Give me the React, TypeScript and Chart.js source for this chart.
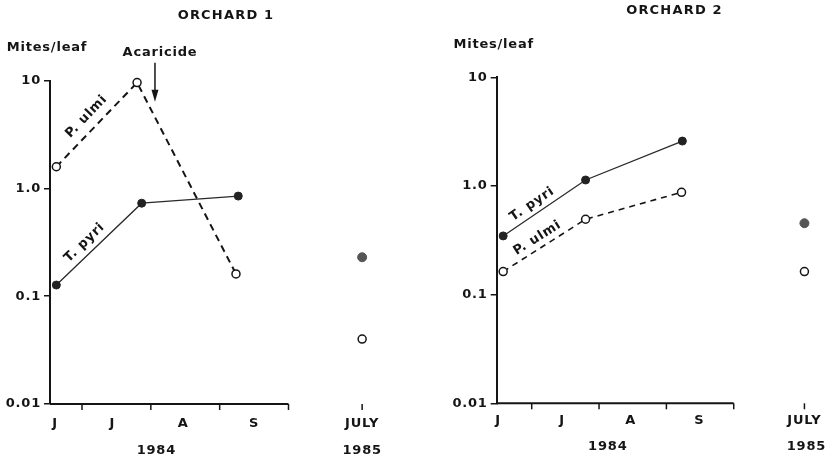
import { useEffect, useRef } from 'react';
import { Chart, registerables } from 'chart.js';

Chart.register(...registerables);

const FONT = '"DejaVu Sans", "Liberation Sans", sans-serif';
const INK = '#151515';

// ---- shared axis content ----
const yTickValues = [0.01, 0.1, 1, 10];
const yTickLabels = ['0.01', '0.1', '1.0', '10'];
// x axis unit: months counted from 1 June 1984 (1 = 1 Jul, 2 = 1 Aug, 3 = 1 Sep, 4 = 1 Oct)
const monthBoundaries = [1, 2, 3, 4];
const monthLabels = ['J', 'J', 'A', 'S', 'JULY'];
const yearLabels = ['1984', '1985'];

// ---- Orchard 1 ----
const o1MonthPos = [0.61, 1.44, 2.47, 3.5, 5.07];
const o1YearPos = [2.08, 5.07];
const o1UlmiDates = [0.627, 1.8, 3.237];
const o1Ulmi = [1.59, 9.6, 0.161];
const o1PyriDates = [0.627, 1.867, 3.27];
const o1Pyri = [0.127, 0.73, 0.85];
const o1July85 = 5.07;
const o1Pyri85 = 0.23;
const o1Ulmi85 = 0.04;
const o1Acaricide = 2.06;

// ---- Orchard 2 ----
const o2MonthPos = [0.5, 1.45, 2.47, 3.49, 5.05];
const o2YearPos = [2.13, 5.08];
const o2UlmiDates = [0.576, 1.8, 3.225];
const o2Ulmi = [0.163, 0.494, 0.875];
const o2PyriDates = [0.576, 1.8, 3.237];
const o2Pyri = [0.347, 1.135, 2.59];
const o2July85 = 5.05;
const o2Pyri85 = 0.454;
const o2Ulmi85 = 0.163;

type PanelCfg = {
  title: string;
  titleX: number;
  titleY: number;
  left: number;
  width: number;
  top: number;
  padRight: number;
  yAxisWidth: number;
  xH: number;
  x2H: number;
  xPad: number;
  x2Pad: number;
  min: number;
  max: number;
  monthPos: number[];
  yearPos: number[];
  ulmiX: number[];
  ulmi: number[];
  pyriX: number[];
  pyri: number[];
  julyX: number;
  pyri85: number;
  ulmi85: number;
  acaricideX?: number;
  ulmiDash: number[];
  ulmiWidth: number;
  ulmiLab: [number, number];
  pyriLab: [number, number];
};

const panels: PanelCfg[] = [
  {
    title: 'ORCHARD 1', titleX: 226, titleY: 16,
    left: 0, width: 415, top: 80.7, padRight: 15, yAxisWidth: 50,
    xH: 30, x2H: 25, xPad: 11.5, x2Pad: 8.5,
    min: 0.535, max: 5.62,
    monthPos: o1MonthPos, yearPos: o1YearPos,
    ulmiX: o1UlmiDates, ulmi: o1Ulmi, pyriX: o1PyriDates, pyri: o1Pyri,
    julyX: o1July85, pyri85: o1Pyri85, ulmi85: o1Ulmi85,
    acaricideX: o1Acaricide,
    ulmiDash: [7, 5], ulmiWidth: 2,
    ulmiLab: [0.49, 13], pyriLab: [0.42, 11],
  },
  {
    title: 'ORCHARD 2', titleX: 259.5, titleY: 11,
    left: 415, width: 415, top: 77.3, padRight: 0, yAxisWidth: 81.7,
    xH: 30, x2H: 25.7, xPad: 10, x2Pad: 6,
    min: 0.48, max: 5.348,
    monthPos: o2MonthPos, yearPos: o2YearPos,
    ulmiX: o2UlmiDates, ulmi: o2Ulmi, pyriX: o2PyriDates, pyri: o2Pyri,
    julyX: o2July85, pyri85: o2Pyri85, ulmi85: o2Ulmi85,
    ulmiDash: [6, 5], ulmiWidth: 1.6,
    ulmiLab: [0.48, 10], pyriLab: [0.42, 10],
  },
];

function makeDecor(cfg: PanelCfg) {
  return {
    id: 'decor',
    beforeDraw(chart: any) {
      chart.ctx.letterSpacing = '0.8px';
    },
    beforeDatasetsDraw(chart: any) {
      const { ctx, chartArea, scales } = chart;
      const sx = scales.x;
      const yb = chartArea.bottom;
      ctx.save();
      ctx.strokeStyle = INK;
      ctx.lineWidth = 2;
      ctx.beginPath();
      ctx.moveTo(chartArea.left, yb);
      ctx.lineTo(sx.getPixelForValue(monthBoundaries[monthBoundaries.length - 1]), yb);
      ctx.stroke();
      ctx.lineWidth = 1.5;
      [...monthBoundaries, cfg.julyX].forEach((v) => {
        const px = sx.getPixelForValue(v);
        ctx.beginPath();
        ctx.moveTo(px, yb);
        ctx.lineTo(px, yb + 6);
        ctx.stroke();
      });
      ctx.restore();
    },
    afterDraw(chart: any) {
      const { ctx, chartArea, scales } = chart;
      const sx = scales.x;
      const sy = scales.y;
      ctx.save();
      ctx.letterSpacing = '1.2px';
      ctx.fillStyle = INK;
      ctx.textAlign = 'center';
      ctx.textBaseline = 'middle';
      ctx.font = `bold 13px ${FONT}`;
      ctx.fillText(cfg.title, cfg.titleX, cfg.titleY);
      ctx.letterSpacing = '0.8px';
      ctx.fillText('Mites/leaf', chartArea.left - 3, chartArea.top - 33);

      const along = (text: string, xs: number[], ys: number[], t: number, off: number) => {
        const x0 = sx.getPixelForValue(xs[0]);
        const y0 = sy.getPixelForValue(ys[0]);
        const x1 = sx.getPixelForValue(xs[1]);
        const y1 = sy.getPixelForValue(ys[1]);
        const dx = x1 - x0;
        const dy = y1 - y0;
        const L = Math.hypot(dx, dy);
        const nx = dy / L;
        const ny = -dx / L;
        ctx.save();
        ctx.translate(x0 + dx * t + nx * off, y0 + dy * t + ny * off);
        ctx.rotate(Math.atan2(dy, dx));
        ctx.fillText(text, 0, 0);
        ctx.restore();
      };
      along('P. ulmi', cfg.ulmiX, cfg.ulmi, cfg.ulmiLab[0], cfg.ulmiLab[1]);
      along('T. pyri', cfg.pyriX, cfg.pyri, cfg.pyriLab[0], cfg.pyriLab[1]);

      if (cfg.acaricideX !== undefined) {
        const ax = sx.getPixelForValue(cfg.acaricideX);
        const top = chartArea.top;
        ctx.fillText('Acaricide', ax + 5, top - 28);
        ctx.strokeStyle = INK;
        ctx.lineWidth = 1.5;
        ctx.beginPath();
        ctx.moveTo(ax, top - 18);
        ctx.lineTo(ax, top + 12);
        ctx.stroke();
        ctx.beginPath();
        ctx.moveTo(ax - 3.5, top + 9);
        ctx.lineTo(ax + 3.5, top + 9);
        ctx.lineTo(ax, top + 21);
        ctx.closePath();
        ctx.fill();
      }
      ctx.restore();
    },
  };
}

function Panel({ cfg }: { cfg: PanelCfg }) {
  const ref = useRef<HTMLCanvasElement>(null);
  useEffect(() => {
    const canvas = ref.current;
    if (!canvas) return;
    const tickFont = { family: FONT, size: 13, weight: 'bold' as const };
    const chart = new Chart(canvas, {
      type: 'line',
      data: {
        datasets: [
          {
            label: 'T. pyri',
            data: cfg.pyriX.map((x, i) => ({ x, y: cfg.pyri[i] })),
            borderColor: '#2a2a2a',
            borderWidth: 1.3,
            pointRadius: 4,
            pointBackgroundColor: '#222',
            pointBorderColor: '#222',
            pointBorderWidth: 1,
            clip: false,
          },
          {
            label: 'P. ulmi',
            data: cfg.ulmiX.map((x, i) => ({ x, y: cfg.ulmi[i] })),
            borderColor: INK,
            borderWidth: cfg.ulmiWidth,
            borderDash: cfg.ulmiDash,
            pointRadius: 4,
            pointBackgroundColor: '#fff',
            pointBorderColor: INK,
            pointBorderWidth: 1.5,
            clip: false,
          },
          {
            label: 'T. pyri 1985',
            data: [{ x: cfg.julyX, y: cfg.pyri85 }],
            showLine: false,
            pointRadius: 4.5,
            pointBackgroundColor: '#555',
            pointBorderColor: '#555',
            clip: false,
          },
          {
            label: 'P. ulmi 1985',
            data: [{ x: cfg.julyX, y: cfg.ulmi85 }],
            showLine: false,
            pointRadius: 4,
            pointBackgroundColor: '#fff',
            pointBorderColor: INK,
            pointBorderWidth: 1.5,
            clip: false,
          },
        ],
      },
      options: {
        responsive: false,
        animation: false,
        layout: { padding: { left: 0, top: cfg.top, right: cfg.padRight, bottom: 0 } },
        plugins: { legend: { display: false }, tooltip: { enabled: false } },
        scales: {
          x: {
            type: 'linear',
            position: 'bottom',
            min: cfg.min,
            max: cfg.max,
            weight: 0,
            border: { display: false },
            grid: { display: false, drawTicks: false },
            afterBuildTicks: (s: any) => {
              s.ticks = cfg.monthPos.map((v) => ({ value: v }));
            },
            afterFit: (s: any) => {
              s.height = cfg.xH;
              s.paddingLeft = 0;
              s.paddingRight = 0;
            },
            ticks: {
              autoSkip: false,
              maxRotation: 0,
              minRotation: 0,
              padding: cfg.xPad,
              color: INK,
              font: tickFont,
              callback: (_v: any, i: number) => monthLabels[i],
            },
          },
          x2: {
            type: 'linear',
            position: 'bottom',
            min: cfg.min,
            max: cfg.max,
            weight: 1,
            border: { display: false },
            grid: { display: false, drawTicks: false },
            afterBuildTicks: (s: any) => {
              s.ticks = cfg.yearPos.map((v) => ({ value: v }));
            },
            afterFit: (s: any) => {
              s.height = cfg.x2H;
              s.paddingLeft = 0;
              s.paddingRight = 0;
            },
            ticks: {
              autoSkip: false,
              maxRotation: 0,
              minRotation: 0,
              padding: cfg.x2Pad,
              color: INK,
              font: tickFont,
              callback: (_v: any, i: number) => yearLabels[i],
            },
          },
          y: {
            type: 'logarithmic',
            min: 0.01,
            max: 10,
            border: { display: true, color: INK, width: 2 },
            grid: { drawOnChartArea: false, drawTicks: true, tickLength: 6, color: INK, lineWidth: 1.5 },
            afterBuildTicks: (s: any) => {
              s.ticks = yTickValues.map((v) => ({ value: v }));
            },
            afterFit: (s: any) => {
              s.width = cfg.yAxisWidth;
              s.paddingTop = 0;
              s.paddingBottom = 0;
            },
            ticks: {
              autoSkip: false,
              padding: 3,
              color: INK,
              font: tickFont,
              callback: (_v: any, i: number) => yTickLabels[i],
            },
          },
        },
      },
      plugins: [makeDecor(cfg)],
    } as any);
    return () => chart.destroy();
  }, [cfg]);
  return (
    <canvas
      ref={ref}
      width={cfg.width}
      height={459}
      style={{ position: 'absolute', left: cfg.left, top: 0, display: 'block' }}
    />
  );
}

export default function App() {
  return (
    <div
      style={{
        position: 'absolute',
        left: 0,
        top: 0,
        width: 830,
        height: 459,
        background: '#fff',
        overflow: 'hidden',
      }}
    >
      {panels.map((p) => (
        <Panel key={p.title} cfg={p} />
      ))}
    </div>
  );
}
